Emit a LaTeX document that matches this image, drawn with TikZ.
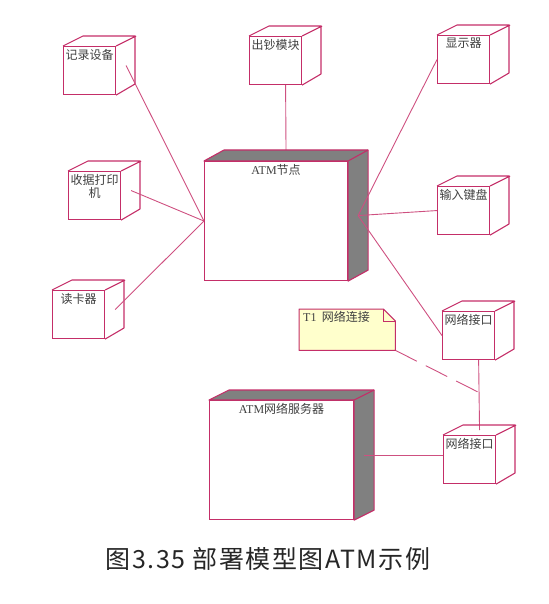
\documentclass[tikz,border=0pt]{standalone}
\usepackage{fontspec}
\setmainfont{Liberation Serif}
\newfontfamily\cjk{Noto Sans CJK SC}
\newfontfamily\capfont[LetterSpace=6]{Noto Sans CJK SC}
\usetikzlibrary{calc, positioning, backgrounds}
\definecolor{boxred}{RGB}{196,46,104}
\definecolor{linkred}{RGB}{206,80,128}
\definecolor{noteyellow}{RGB}{255,255,204}
\definecolor{sidegray}{RGB}{128,128,128}
\tikzset{
  dev/.style={draw=boxred, fill=white, line width=1.1pt, anchor=north west,
    minimum width=52pt, minimum height=48pt, inner sep=0pt},
  bignode/.style={dev, minimum width=143pt, minimum height=119pt},
  lbl/.style={font=\cjk\fontsize{12}{13.5}\selectfont, inner sep=1pt, align=center, text=black!75},
  link/.style={draw=linkred, line width=.9pt},
}

\begin{document}
\begin{tikzpicture}[x=1pt, y=-1pt]
\useasboundingbox (0,0) rectangle (548,604);

% devices
\node[dev, label={[lbl, anchor=north, yshift=-2pt]north:记录设备}] (rec) at (63,46) {};
\node[dev, label={[lbl, anchor=north, yshift=-2pt]north:出钞模块}] (cash) at (249,36) {};
\node[dev, label={[lbl, anchor=north, yshift=-2pt]north:显示器}] (disp) at (437,35) {};
\node[dev, label={[lbl, anchor=north, yshift=-2pt]north:收据打印\\机}] (prn) at (68,171) {};
\node[dev, label={[lbl, anchor=north, yshift=-2pt]north:输入键盘}] (key) at (437,186) {};
\node[dev, label={[lbl, anchor=north, yshift=-2pt]north:读卡器}] (card) at (52,290) {};
\node[dev, label={[lbl, anchor=north, yshift=-2pt]north:网络接口}] (nifa) at (442,311) {};
\node[dev, label={[lbl, anchor=north, yshift=-2pt]north:网络接口}] (nifb) at (443,435) {};

% the two big nodes
\node[bignode, label={[lbl, anchor=north, yshift=-2pt]north:{\rmfamily ATM}节点}] (atm) at (204,161) {};
\node[bignode, minimum width=144pt, label={[lbl, anchor=north, yshift=-2pt]north:{\rmfamily ATM}网络服务器}] (srv) at (209,400) {};

\foreach \n in {rec,cash,disp,prn,key,card,nifa,nifb}
{
    \draw[boxred, line width=1.1pt, line join=round] (\n.north west) -- ++(20,-10) -- ++(52,0) -- ++(0,48) -- (\n.south east)
        (\n.north east) -- ++(20,-10);
}
\foreach \n/\d in {atm/11,srv/10}
{
    \filldraw[fill=sidegray, draw=boxred, line width=1.1pt, line join=round] (\n.north west) -- ++(20,-\d)
        -- ($(\n.north east)+(20,-\d)$) -- ($(\n.south east)+(20,-\d)$) -- (\n.south east) -- (\n.north east) -- cycle;
    \draw[boxred, line width=1.1pt] (\n.north east) -- ++(20,-\d);
}

% note
\node[anchor=north west, minimum width=96pt, minimum height=41pt, inner sep=0pt] (t1) at (299,309) {};
\filldraw[fill=noteyellow, draw=boxred, line width=1pt, line join=round] (t1.north west) -- ($(t1.north east)+(-12,0)$)
    -- ($(t1.north east)+(0,12)$) -- (t1.south east) -- (t1.south west) -- cycle;
\draw[boxred, line width=1pt] ($(t1.north east)+(-12,0)$) -- ++(0,12) -- ++(12,0);
\node[lbl, anchor=west] at ($(t1.north west)+(3,8)$) {{\rmfamily T1}\ \ 网络连接};

% link ends
\coordinate (atm-r) at ($(atm.east)+(10,-5.5)$);
\coordinate (atm-t) at ($(atm.north)+(10,-5.5)$);
\coordinate (nifa-b) at ($(nifa.south)+(10,-5)$);
\coordinate (nifb-t) at ($(nifb.north)+(10,-5)$);
\coordinate (srv-r) at ($(srv.east)+(10,-5)$);
\coordinate (tee) at ($(nifa-b)!0.5!(nifb-t)$);

\foreach \n in {rec,prn,card}
    \draw[link] ($(\n.east)+(10,-5)$) -- (atm.west);
\foreach \n in {disp,key,nifa}
    \draw[link] (\n.west) -- (atm-r);
\draw[link] (srv-r) -- (srv-r -| nifb.west);
\begin{scope}[on background layer]
\draw[link] ($(cash.south)+(10,-5)$) -- (atm-t);
\draw[link] (nifa-b) -- (nifb-t);
\draw[link, dash pattern=on 24pt off 10pt] (t1.south east) -- (tee);
\end{scope}

\node[font=\capfont\fontsize{25}{29}\selectfont, text=black!85] (cap) at (268,559) {图3.35 部署模型图ATM示例};
\end{tikzpicture}
\end{document}
